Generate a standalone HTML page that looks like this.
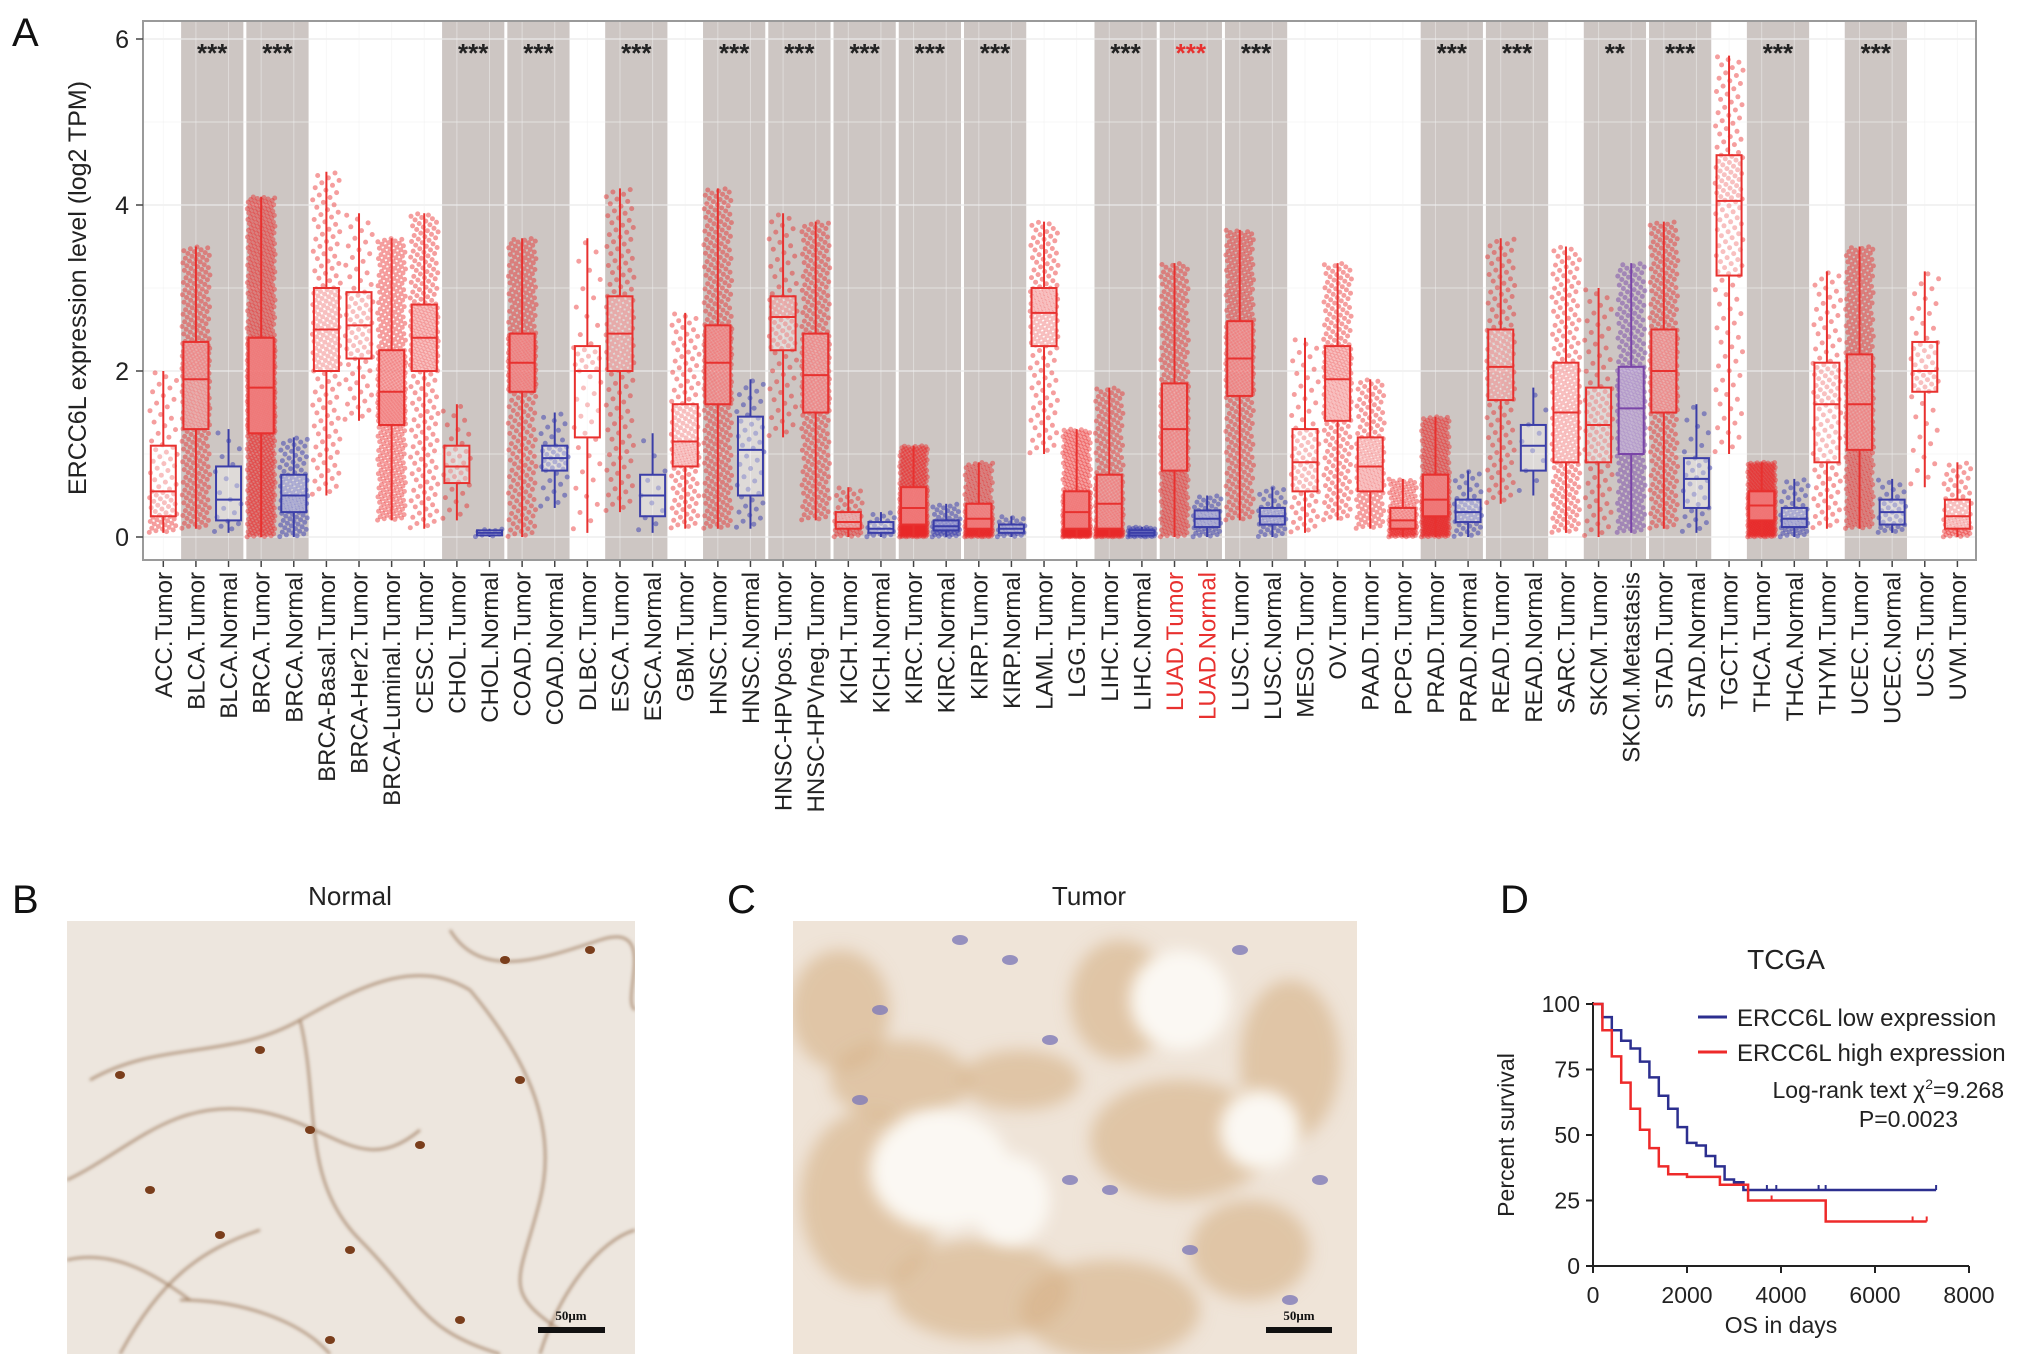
<!DOCTYPE html>
<html><head><meta charset="utf-8">
<style>
html,body{margin:0;padding:0;background:#fff;}
body{width:2032px;height:1367px;position:relative;overflow:hidden;font-family:"Liberation Sans",Arial,sans-serif;}
svg{position:absolute;left:0;top:0;}
</style></head>
<body>
<svg id="fig" width="2032" height="1367" viewBox="0 0 2032 1367" xmlns="http://www.w3.org/2000/svg">
<defs>
<filter id="blur6"><feGaussianBlur stdDeviation="8"/></filter>
<filter id="blur2"><feGaussianBlur stdDeviation="1.5"/></filter>
<clipPath id="clipB"><rect x="67" y="921" width="568" height="433"/></clipPath>
<clipPath id="clipC"><rect x="793" y="921" width="564" height="433"/></clipPath>
</defs>
<g id="panelA"></g>
<g id="panelB"></g>
<g id="panelC"></g>
<g id="panelD"></g>
</svg>
<script>
// ---- Panel A data ----
const categories=["ACC.Tumor","BLCA.Tumor","BLCA.Normal","BRCA.Tumor","BRCA.Normal","BRCA-Basal.Tumor","BRCA-Her2.Tumor","BRCA-Luminal.Tumor","CESC.Tumor","CHOL.Tumor","CHOL.Normal","COAD.Tumor","COAD.Normal","DLBC.Tumor","ESCA.Tumor","ESCA.Normal","GBM.Tumor","HNSC.Tumor","HNSC.Normal","HNSC-HPVpos.Tumor","HNSC-HPVneg.Tumor","KICH.Tumor","KICH.Normal","KIRC.Tumor","KIRC.Normal","KIRP.Tumor","KIRP.Normal","LAML.Tumor","LGG.Tumor","LIHC.Tumor","LIHC.Normal","LUAD.Tumor","LUAD.Normal","LUSC.Tumor","LUSC.Normal","MESO.Tumor","OV.Tumor","PAAD.Tumor","PCPG.Tumor","PRAD.Tumor","PRAD.Normal","READ.Tumor","READ.Normal","SARC.Tumor","SKCM.Tumor","SKCM.Metastasis","STAD.Tumor","STAD.Normal","TGCT.Tumor","THCA.Tumor","THCA.Normal","THYM.Tumor","UCEC.Tumor","UCEC.Normal","UCS.Tumor","UVM.Tumor"];
const groupType=["T","T","N","T","N","T","T","T","T","T","N","T","N","T","T","N","T","T","N","T","T","T","N","T","N","T","N","T","T","T","N","T","N","T","N","T","T","T","T","T","N","T","N","T","T","M","T","N","T","T","N","T","T","N","T","T"];
const whiskLo=[0.05,0.1,0.05,0,0,0.5,1.4,0.2,0.1,0.2,0,0,0.35,0.05,0.3,0.05,0.1,0.1,0.1,1.2,0.2,0,0,0,0,0,0,1.0,0,0,0,0,0,0.2,0,0.05,0.2,0.1,0,0,0,0.4,0.5,0.05,0,0.05,0.1,0.05,1.0,0,0,0.1,0.1,0.05,0.6,0];
const q1=[0.25,1.3,0.2,1.25,0.3,2.0,2.15,1.35,2.0,0.65,0.02,1.75,0.8,1.2,2.0,0.25,0.85,1.6,0.5,2.25,1.5,0.1,0.05,0.15,0.08,0.1,0.05,2.3,0.1,0.1,0.02,0.8,0.12,1.7,0.15,0.55,1.4,0.55,0.1,0.25,0.18,1.65,0.8,0.9,0.9,1.0,1.5,0.35,3.15,0.2,0.12,0.9,1.05,0.15,1.75,0.1];
const median=[0.55,1.9,0.45,1.8,0.5,2.5,2.55,1.75,2.4,0.85,0.05,2.1,0.95,2.0,2.45,0.5,1.15,2.1,1.05,2.65,1.95,0.18,0.1,0.35,0.13,0.22,0.1,2.7,0.3,0.4,0.05,1.3,0.22,2.15,0.25,0.9,1.9,0.85,0.2,0.45,0.3,2.05,1.1,1.5,1.35,1.55,2.0,0.7,4.05,0.38,0.22,1.6,1.6,0.3,2.0,0.25];
const q3=[1.1,2.35,0.85,2.4,0.75,3.0,2.95,2.25,2.8,1.1,0.08,2.45,1.1,2.3,2.9,0.75,1.6,2.55,1.45,2.9,2.45,0.3,0.18,0.6,0.2,0.4,0.15,3.0,0.55,0.75,0.08,1.85,0.32,2.6,0.35,1.3,2.3,1.2,0.35,0.75,0.45,2.5,1.35,2.1,1.8,2.05,2.5,0.95,4.6,0.55,0.35,2.1,2.2,0.45,2.35,0.45];
const whiskHi=[2.0,3.5,1.3,4.1,1.2,4.4,3.9,3.6,3.9,1.6,0.1,3.6,1.5,3.6,4.2,1.25,2.7,4.2,1.9,3.9,3.8,0.6,0.3,1.1,0.4,0.9,0.25,3.8,1.3,1.8,0.12,3.3,0.5,3.7,0.6,2.4,3.3,1.9,0.7,1.45,0.8,3.6,1.8,3.5,3.0,3.3,3.8,1.6,5.8,0.9,0.7,3.2,3.5,0.7,3.2,0.9];
const sampleN=[79,408,19,1100,112,190,82,560,304,36,9,457,41,47,182,11,163,520,44,97,421,66,25,533,72,290,32,173,516,371,50,515,59,501,52,87,303,178,179,497,52,166,10,262,103,368,415,34,150,510,59,120,546,35,57,80];
const sigPairs=[1,3,9,11,14,17,19,21,23,25,29,31,33,39,41,44,46,49,52];
const sigLabels=["***","***","***","***","***","***","***","***","***","***","***","***","***","***","***","**","***","***","***"];
const highlightPair=31;
const yTicks=[0,2,4,6];

// ---- Panel D data ----
const kmLowT=[0,200,400,600,800,1000,1200,1400,1600,1800,2000,2200,2400,2600,2800,3000,3200,7300];
const kmLowS=[100,95,90,86,83,78,72,65,60,53,47,46,42,38,33,32,29,29];
const kmHighT=[0,200,400,600,800,1000,1200,1400,1600,2000,2700,3300,4950,7100];
const kmHighS=[100,90,80,70,60,52,45,38,35,34,31,25,17,17];
const lowCensor=[3700,3900,4800,4950,7300];
const highCensor=[3800,6800,7100];
const kmXTicks=[0,2000,4000,6000,8000];
const kmYTicks=[0,25,50,75,100];

const NS="http://www.w3.org/2000/svg";
function mk(tag,attrs,parent){const e=document.createElementNS(NS,tag);for(const k in attrs)e.setAttribute(k,attrs[k]);parent.appendChild(e);return e;}

// ---- Panel A ----
(function(){
const g=document.getElementById('panelA');
const L=143,R=1976,T=21,B=560;
const xs=i=>163.3+i*32.62;
const ys=v=>537-v*83;
const bg=mk('rect',{x:L,y:T,width:R-L,height:B-T,fill:'#ffffff',stroke:'none'},g);


sigPairs.forEach((p,k)=>{
  const r=mk('rect',{x:xs(p)-16.3+1.5,y:T,width:65.24-3,height:B-T,fill:'#cdc6c3'},g);
  
  
});
yTicks.forEach(v=>{mk('line',{x1:L,x2:R,y1:ys(v),y2:ys(v),stroke:'#ebebeb','stroke-width':1.5,opacity:0.8},g);
 mk('line',{x1:L,x2:R,y1:ys(v+1),y2:ys(v+1),stroke:'#f3f3f3','stroke-width':1,opacity:0.6},g);});
categories.forEach((c,i)=>{mk('line',{x1:xs(i),x2:xs(i),y1:T,y2:B,stroke:'#f0f0f0','stroke-width':1,opacity:0.5},g);});
categories.forEach((c,i)=>{
  const t=groupType[i];
  const col=t==='T'?'#e8312f':(t==='N'?'#3b3ea8':'#7a45a8');
  const ptc=t==='T'?'rgba(232,40,40,0.45)':(t==='N'?'rgba(55,60,175,0.5)':'rgba(120,70,170,0.5)');
  const cx=xs(i);
  const q=[whiskLo[i],q1[i],median[i],q3[i],whiskHi[i]];
  const n=sampleN[i];
  const pg=mk('g',{fill:ptc},g);
  
  
  for(let k=0;k<n;k++){
    const u=(k+0.5)/n;const seg=Math.min(3,Math.floor(u*4));const f=u*4-seg;
    const v=q[seg]+(q[seg+1]-q[seg])*f;
    const jx=(((k*0.6180339)%1)-0.5)*28;
    mk('circle',{cx:(cx+jx).toFixed(1),cy:ys(v).toFixed(1),r:2.5},pg);
  }
  const bx=mk('g',{stroke:col,'stroke-width':2,fill:'none'},g);
  
  
  mk('line',{x1:cx,x2:cx,y1:ys(q[0]),y2:ys(q[1])},bx);
  mk('line',{x1:cx,x2:cx,y1:ys(q[3]),y2:ys(q[4])},bx);
  mk('rect',{x:cx-12.5,y:ys(q[3]),width:25,height:Math.max(1,ys(q[1])-ys(q[3])),fill:'rgba(255,255,255,0.35)'},bx);
  mk('line',{x1:cx-12.5,x2:cx+12.5,y1:ys(q[2]),y2:ys(q[2])},bx);
  mk('line',{x1:cx,x2:cx,y1:B,y2:B+7,stroke:'#444','stroke-width':1.5},g);
  const tl=mk('text',{x:0,y:0,transform:`translate(${cx+8.5},${B+12}) rotate(-90)`,'text-anchor':'end','font-size':24,fill:(i===31||i===32)?'#e8312f':'#222'},g);
  tl.textContent=c;
  
  
});
sigPairs.forEach((p,k)=>{
  const s=mk('text',{x:xs(p)+16.3,y:62,'text-anchor':'middle','font-size':26,'font-weight':'bold',fill:p===highlightPair?'#e8312f':'#222'},g);
  s.textContent=sigLabels[k];
  
  
});
mk('rect',{x:L,y:T,width:R-L,height:B-T,fill:'none',stroke:'#9a9a9a','stroke-width':2},g);
yTicks.forEach(v=>{
  mk('line',{x1:L-7,x2:L,y1:ys(v),y2:ys(v),stroke:'#444','stroke-width':1.5},g);
  const t=mk('text',{x:L-14,y:ys(v)+9,'text-anchor':'end','font-size':25,fill:'#222'},g);
  t.textContent=v;
  
  
});
const yt=mk('text',{transform:'translate(86,288) rotate(-90)','text-anchor':'middle','font-size':25,fill:'#222'},g);
yt.textContent='ERCC6L expression level (log2 TPM)';


const la=mk('text',{x:12,y:46,'font-size':40,fill:'#111'},g);
la.textContent='A';


})();

// ---- Panel B ----
(function(){
const g=document.getElementById('panelB');
const lb=mk('text',{x:12,y:913,'font-size':40,fill:'#111'},g);lb.textContent='B';

const tt=mk('text',{x:350,y:905,'text-anchor':'middle','font-size':26,fill:'#222'},g);tt.textContent='Normal';

const im=mk('g',{'clip-path':'url(#clipB)'},g);

mk('rect',{x:67,y:921,width:568,height:433,fill:'#ede6de'},im);
const paths=["M90,1080 C160,1040 230,1060 300,1020 S420,960 470,990","M67,1180 C130,1150 170,1100 250,1110 S360,1180 420,1130","M300,1020 C320,1100 300,1180 360,1240 S420,1330 500,1354","M450,930 C480,980 540,960 600,940 S620,1000 635,1010","M120,1354 C160,1280 200,1250 260,1230","M540,1354 C560,1290 600,1240 635,1230","M470,990 C520,1050 560,1120 540,1200 S500,1290 560,1330","M180,1300 C240,1300 300,1320 330,1354","M67,1260 C110,1250 150,1270 190,1300"];
const pg=mk('g',{filter:'url(#blur2)'},im);
paths.forEach(d=>mk('path',{d:d,fill:'none',stroke:'#a07e62','stroke-width':2.5,opacity:0.8},pg));
[[120,1075],[260,1050],[310,1130],[150,1190],[420,1145],[505,960],[590,950],[350,1250],[220,1235],[520,1080],[460,1320],[330,1340]].forEach(p=>mk('ellipse',{cx:p[0],cy:p[1],rx:5,ry:4,fill:'#7a3e1c'},im));
mk('line',{x1:538,x2:605,y1:1330,y2:1330,stroke:'#111','stroke-width':6},g);
const sb=mk('text',{x:571,y:1320,'text-anchor':'middle','font-size':13,'font-weight':'bold','font-family':'Liberation Serif,serif',fill:'#111'},g);sb.textContent='50μm';

})();

// ---- Panel C ----
(function(){
const g=document.getElementById('panelC');
const lb=mk('text',{x:727,y:913,'font-size':40,fill:'#111'},g);lb.textContent='C';

const tt=mk('text',{x:1089,y:905,'text-anchor':'middle','font-size':26,fill:'#222'},g);tt.textContent='Tumor';

const im=mk('g',{'clip-path':'url(#clipC)'},g);

mk('rect',{x:793,y:921,width:564,height:433,fill:'#efe4d8'},im);
const bl=mk('g',{filter:'url(#blur6)'},im);
[[840,1010,50,60],[900,1080,70,40],[870,1200,70,90],[980,1290,90,50],[1110,1310,90,50],[1180,1140,90,60],[1120,1000,50,60],[1290,1060,50,80],[1020,1080,60,30],[1250,1250,60,50]].forEach(e=>mk('ellipse',{cx:e[0],cy:e[1],rx:e[2],ry:e[3],fill:'#d6b086',opacity:0.6},bl));
const wl=mk('g',{filter:'url(#blur6)'},im);
[[940,1170,70,60],[1010,1200,40,45],[1180,1000,50,50],[1260,1130,40,40]].forEach(e=>mk('ellipse',{cx:e[0],cy:e[1],rx:e[2],ry:e[3],fill:'#fbf8f3'},wl));
[[880,1010],[860,1100],[1050,1040],[1070,1180],[1110,1190],[1190,1250],[1290,1300],[1320,1180],[1240,950],[1010,960],[960,940]].forEach(p=>mk('ellipse',{cx:p[0],cy:p[1],rx:8,ry:5,fill:'#7f7bb8',opacity:0.8},im));
mk('line',{x1:1266,x2:1332,y1:1330,y2:1330,stroke:'#111','stroke-width':6},g);
const sb=mk('text',{x:1299,y:1320,'text-anchor':'middle','font-size':13,'font-weight':'bold','font-family':'Liberation Serif,serif',fill:'#111'},g);sb.textContent='50μm';

})();

// ---- Panel D ----
(function(){
const g=document.getElementById('panelD');
const xs=t=>1593+t*(376/8000);
const ys=s=>1266-s*2.62;
const lb=mk('text',{x:1500,y:913,'font-size':40,fill:'#111'},g);lb.textContent='D';

const tt=mk('text',{x:1786,y:969,'text-anchor':'middle','font-size':28,fill:'#222'},g);tt.textContent='TCGA';

mk('line',{x1:1593,x2:1593,y1:1002,y2:1266,stroke:'#222','stroke-width':2},g);
mk('line',{x1:1593,x2:1969,y1:1266,y2:1266,stroke:'#222','stroke-width':2},g);
kmXTicks.forEach(v=>{mk('line',{x1:xs(v),x2:xs(v),y1:1266,y2:1273,stroke:'#222','stroke-width':2},g);
  const t=mk('text',{x:xs(v),y:1303,'text-anchor':'middle','font-size':23,fill:'#222'},g);t.textContent=v;
  });
kmYTicks.forEach(v=>{mk('line',{x1:1586,x2:1593,y1:ys(v),y2:ys(v),stroke:'#222','stroke-width':2},g);
  const t=mk('text',{x:1580,y:ys(v)+8,'text-anchor':'end','font-size':23,fill:'#222'},g);t.textContent=v;
  });
const xt=mk('text',{x:1781,y:1333,'text-anchor':'middle','font-size':23,fill:'#222'},g);xt.textContent='OS in days';

const yt=mk('text',{transform:'translate(1514,1135) rotate(-90)','text-anchor':'middle','font-size':23,fill:'#222'},g);yt.textContent='Percent survival';

function step(T,S){let d=`M${xs(T[0])},${ys(S[0])}`;for(let i=1;i<T.length;i++){d+=` H${xs(T[i]).toFixed(1)} V${ys(S[i]).toFixed(1)}`;}return d;}
const lo=mk('path',{d:step(kmLowT,kmLowS),fill:'none',stroke:'#2c2f8f','stroke-width':2.5},g);

const hi=mk('path',{d:step(kmHighT,kmHighS),fill:'none',stroke:'#ee2a2a','stroke-width':2.5},g);

function sAt(T,S,t){let s=S[0];for(let i=0;i<T.length;i++){if(T[i]<=t)s=S[i];}return s;}
lowCensor.forEach(t=>mk('line',{x1:xs(t),x2:xs(t),y1:ys(sAt(kmLowT,kmLowS,t))-5,y2:ys(sAt(kmLowT,kmLowS,t)),stroke:'#2c2f8f','stroke-width':2},g));
highCensor.forEach(t=>mk('line',{x1:xs(t),x2:xs(t),y1:ys(sAt(kmHighT,kmHighS,t))-5,y2:ys(sAt(kmHighT,kmHighS,t)),stroke:'#ee2a2a','stroke-width':2},g));
mk('line',{x1:1698,x2:1727,y1:1017,y2:1017,stroke:'#2c2f8f','stroke-width':3},g);
mk('line',{x1:1698,x2:1727,y1:1052,y2:1052,stroke:'#ee2a2a','stroke-width':3},g);
const l1=mk('text',{x:1737,y:1026,'font-size':24,fill:'#222'},g);l1.textContent='ERCC6L low expression';

const l2=mk('text',{x:1737,y:1061,'font-size':24,fill:'#222'},g);l2.textContent='ERCC6L high expression';

const s1=mk('text',{x:2004,y:1098,'text-anchor':'end','font-size':23,fill:'#222'},g);
s1.innerHTML='Log-rank text χ<tspan dy="-9" font-size="14">2</tspan><tspan dy="9">=9.268</tspan>';

const s2=mk('text',{x:1958,y:1127,'text-anchor':'end','font-size':23,fill:'#222'},g);s2.textContent='P=0.0023';

})();
</script>
</body></html>
